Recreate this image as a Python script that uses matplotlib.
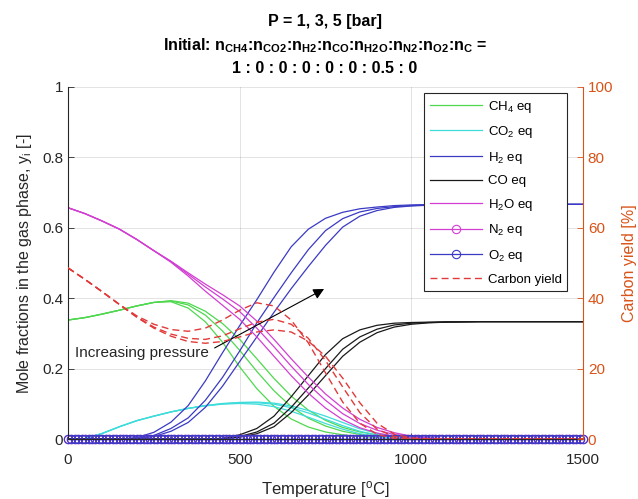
import matplotlib
matplotlib.use("Agg")
import matplotlib.pyplot as plt
import numpy as np

plt.rcParams['font.family'] = ['Liberation Sans', 'DejaVu Sans']
plt.rcParams['mathtext.fontset'] = 'custom'
plt.rcParams['mathtext.rm'] = 'Liberation Sans'
plt.rcParams['mathtext.it'] = 'Liberation Sans:italic'
plt.rcParams['mathtext.bf'] = 'Liberation Sans:bold'
plt.rcParams['mathtext.default'] = 'regular'

# ---------------- data ----------------
T = [0, 50, 100, 150, 200, 250, 300, 350, 400, 450, 500, 550, 600, 650, 700,
     750, 800, 850, 900, 950, 1000, 1050, 1100, 1200, 1300, 1400, 1500]

ch4_p1 = [0.338, 0.345, 0.355, 0.366, 0.378, 0.388, 0.390, 0.372, 0.333, 0.275, 0.205, 0.143, 0.093, 0.057,
          0.034, 0.020, 0.012, 0.007, 0.004, 0.002, 0.001, 0, 0, 0, 0, 0, 0]
ch4_p3 = [0.338, 0.345, 0.355, 0.366, 0.378, 0.388, 0.392, 0.381, 0.352, 0.307, 0.252, 0.192, 0.137, 0.092,
          0.059, 0.037, 0.022, 0.013, 0.008, 0.004, 0.002, 0.001, 0, 0, 0, 0, 0]
ch4_p5 = [0.338, 0.345, 0.355, 0.366, 0.378, 0.388, 0.393, 0.386, 0.363, 0.328, 0.283, 0.228, 0.172, 0.122,
          0.082, 0.053, 0.033, 0.020, 0.012, 0.007, 0.004, 0.002, 0.001, 0, 0, 0, 0]

co2_p1 = [0, 0.001, 0.016, 0.035, 0.052, 0.065, 0.077, 0.087, 0.094, 0.099, 0.101, 0.099, 0.092, 0.079,
          0.062, 0.044, 0.028, 0.015, 0.007, 0.003, 0.001, 0, 0, 0, 0, 0, 0]
co2_p3 = [0, 0.001, 0.016, 0.035, 0.052, 0.065, 0.077, 0.087, 0.095, 0.100, 0.103, 0.103, 0.099, 0.089,
          0.074, 0.056, 0.038, 0.022, 0.011, 0.005, 0.002, 0.001, 0, 0, 0, 0, 0]
co2_p5 = [0, 0.001, 0.016, 0.035, 0.052, 0.065, 0.077, 0.087, 0.095, 0.101, 0.104, 0.105, 0.102, 0.094,
          0.081, 0.065, 0.047, 0.029, 0.016, 0.008, 0.003, 0.001, 0, 0, 0, 0, 0]

h2_p1 = [0, 0, 0, 0, 0.004, 0.019, 0.048, 0.095, 0.165, 0.245, 0.322, 0.396, 0.474, 0.546,
         0.596, 0.627, 0.644, 0.654, 0.659, 0.663, 0.665, 0.666, 0.6665, 0.6667, 0.6667, 0.6667, 0.6667]
h2_p3 = [0, 0, 0, 0, 0.002, 0.010, 0.030, 0.060, 0.110, 0.175, 0.250, 0.330, 0.402, 0.472,
         0.538, 0.592, 0.626, 0.645, 0.655, 0.660, 0.663, 0.665, 0.666, 0.6667, 0.6667, 0.6667, 0.6667]
h2_p5 = [0, 0, 0, 0, 0.001, 0.007, 0.022, 0.047, 0.090, 0.150, 0.220, 0.290, 0.360, 0.427,
         0.490, 0.550, 0.602, 0.633, 0.649, 0.658, 0.662, 0.664, 0.6655, 0.6667, 0.6667, 0.6667, 0.6667]

co_p1 = [0, 0, 0, 0, 0, 0, 0, 0, 0, 0.002, 0.012, 0.030, 0.065, 0.120,
         0.180, 0.240, 0.285, 0.310, 0.323, 0.329, 0.331, 0.332, 0.333, 0.3333, 0.3333, 0.3333, 0.3333]
co_p3 = [0, 0, 0, 0, 0, 0, 0, 0, 0, 0.001, 0.007, 0.020, 0.045, 0.090,
         0.145, 0.200, 0.255, 0.290, 0.312, 0.324, 0.329, 0.331, 0.332, 0.3333, 0.3333, 0.3333, 0.3333]
co_p5 = [0, 0, 0, 0, 0, 0, 0, 0, 0, 0.0005, 0.005, 0.015, 0.035, 0.075,
         0.125, 0.180, 0.235, 0.275, 0.302, 0.318, 0.326, 0.330, 0.332, 0.3333, 0.3333, 0.3333, 0.3333]

h2o_p1 = [0.657, 0.640, 0.619, 0.596, 0.567, 0.535, 0.502, 0.463, 0.420, 0.380, 0.340, 0.290, 0.235, 0.180,
          0.130, 0.088, 0.055, 0.032, 0.017, 0.008, 0.003, 0.001, 0, 0, 0, 0, 0]
h2o_p3 = [0.657, 0.640, 0.619, 0.596, 0.567, 0.535, 0.504, 0.468, 0.432, 0.398, 0.362, 0.315, 0.262, 0.207,
          0.155, 0.110, 0.072, 0.044, 0.025, 0.013, 0.006, 0.002, 0.001, 0, 0, 0, 0]
h2o_p5 = [0.657, 0.640, 0.619, 0.596, 0.567, 0.535, 0.505, 0.472, 0.440, 0.410, 0.378, 0.335, 0.283, 0.228,
          0.176, 0.128, 0.088, 0.056, 0.033, 0.018, 0.008, 0.003, 0.001, 0, 0, 0, 0]

cy_p1 = [48.6, 45.3, 41.8, 38.2, 35.0, 32.6, 31.1, 30.6, 31.5, 33.8, 36.6, 38.7, 37.8, 33.8,
         27.3, 18.8, 10.5, 4.5, 1.3, 0.2, 0, 0, 0, 0, 0, 0, 0]
cy_p3 = [48.6, 45.3, 41.8, 38.2, 34.7, 31.8, 29.8, 28.6, 28.3, 29.3, 31.3, 33.2, 34.0, 32.6,
         28.6, 22.3, 14.8, 7.5, 2.8, 0.7, 0.1, 0, 0, 0, 0, 0, 0]
cy_p5 = [48.6, 45.3, 41.8, 38.2, 34.6, 31.5, 29.2, 27.7, 27.2, 27.7, 29.0, 30.4, 31.0, 30.4,
         27.8, 23.5, 17.3, 10.3, 4.5, 1.4, 0.3, 0, 0, 0, 0, 0, 0]

T_fine = list(range(0, 1510, 10))
n2_eq = [0.0] * len(T_fine)
o2_eq = [0.0] * len(T_fine)

x_ticks = [0, 500, 1000, 1500]
y_ticks = [0, 0.2, 0.4, 0.6, 0.8, 1]
y2_ticks = [0, 20, 40, 60, 80, 100]

# ---------------- style ----------------
c_ch4 = '#4fd84f'
c_co2 = '#3fdcdc'
c_h2 = '#3a3ac4'
c_co = '#1a1a1a'
c_h2o = '#d23fd2'
c_red = '#e23a3a'
c_orange = '#D95319'
c_axis = '#262626'
lw = 0.9

fig = plt.figure(figsize=(6.38, 4.99), dpi=100)
ax = fig.add_axes([0.1066, 0.1202, 0.8072, 0.7055])
ax2 = ax.twinx()

for s in [ch4_p1, ch4_p3, ch4_p5]:
    l_ch4, = ax.plot(T, s, color=c_ch4, lw=lw)
for s in [co2_p1, co2_p3, co2_p5]:
    l_co2, = ax.plot(T, s, color=c_co2, lw=lw)
for s in [h2_p1, h2_p3, h2_p5]:
    l_h2, = ax.plot(T, s, color=c_h2, lw=lw)
for s in [co_p1, co_p3, co_p5]:
    l_co, = ax.plot(T, s, color=c_co, lw=lw)
for s in [h2o_p1, h2o_p3, h2o_p5]:
    l_h2o, = ax.plot(T, s, color=c_h2o, lw=lw)
l_n2, = ax.plot(T_fine, n2_eq, color=c_h2o, lw=lw, marker='o', ms=6,
                mfc='none', mec=c_h2o, mew=0.8, clip_on=False)
l_o2, = ax.plot(T_fine, o2_eq, color=c_h2, lw=lw, marker='o', ms=6,
                mfc='none', mec=c_h2, mew=0.8, clip_on=False)
for s in [cy_p1, cy_p3, cy_p5]:
    l_cy, = ax2.plot(T, s, color=c_red, lw=1.0, ls=(0, (5, 3)))

ax.set_xlim(0, 1500)
ax.set_ylim(0, 1)
ax2.set_ylim(0, 100)
ax.set_xticks(x_ticks)
ax.set_yticks(y_ticks)
ax.set_yticklabels(['0', '0.2', '0.4', '0.6', '0.8', '1'])
ax2.set_yticks(y2_ticks)

ax.grid(True, color=c_axis, alpha=0.15, lw=0.6)
ax.set_axisbelow(True)

for sp in ['top']:
    ax.spines[sp].set_visible(False)
    ax2.spines[sp].set_visible(False)
ax.spines['left'].set_color(c_axis)
ax.spines['bottom'].set_color(c_axis)
ax2.spines['right'].set_color(c_orange)
ax2.spines['left'].set_visible(False)
ax2.spines['bottom'].set_visible(False)
ax.spines['right'].set_visible(False)

ax.tick_params(axis='both', direction='in', length=4, colors=c_axis, labelsize=11, width=0.6)
ax.tick_params(axis='x', pad=10)
ax2.tick_params(axis='y', direction='in', length=4, colors=c_orange, labelsize=11, width=0.6)

ax.set_xlabel(r'Temperature [$^{o}$C]', fontsize=12, color=c_axis, labelpad=9)
ax.set_ylabel(r'Mole fractions in the gas phase, y$_{i}$ [-]', fontsize=11.5, color=c_axis, labelpad=6)
ax2.set_ylabel('Carbon yield [%]', fontsize=11.5, color=c_orange, labelpad=6)

ax.text(20, 0.244, 'Increasing pressure', fontsize=11, color=c_axis, va='center', ha='left')
ax.annotate('', xy=(753, 0.43), xytext=(420, 0.255),
            arrowprops=dict(arrowstyle='-|>', color='k', lw=0.8, mutation_scale=16))

fig.text(0.509, 0.956, 'P = 1, 3, 5 [bar]', ha='center', va='center', fontsize=11.5, fontweight='bold')
fig.text(0.509, 0.909,
         r'Initial: n$_{\mathbf{CH4}}$:n$_{\mathbf{CO2}}$:n$_{\mathbf{H2}}$:n$_{\mathbf{CO}}$:'
         r'n$_{\mathbf{H2O}}$:n$_{\mathbf{N2}}$:n$_{\mathbf{O2}}$:n$_{\mathbf{C}}$ =',
         ha='center', va='center', fontsize=11.5, fontweight='bold')
fig.text(0.509, 0.863, '1 : 0 : 0 : 0 : 0 : 0 : 0.5 : 0', ha='center', va='center',
         fontsize=11.5, fontweight='bold')

handles = [l_ch4, l_co2, l_h2, l_co, l_h2o, l_n2, l_o2, l_cy]
labels = ['CH$_4$ eq', 'CO$_2$ eq', 'H$_2$ eq', 'CO eq', 'H$_2$O eq', 'N$_2$ eq', 'O$_2$ eq', 'Carbon yield']
leg = ax2.legend(handles, labels, loc='upper right', bbox_to_anchor=(0.969, 0.982),
                 fontsize=9.5, frameon=True, fancybox=False, edgecolor=c_axis, framealpha=1,
                 handlelength=4.0, labelspacing=0.72, borderpad=0.4, handletextpad=0.4,
                 numpoints=1, borderaxespad=0)
leg.get_frame().set_linewidth(0.8)

fig.savefig('out.png', dpi=100)
